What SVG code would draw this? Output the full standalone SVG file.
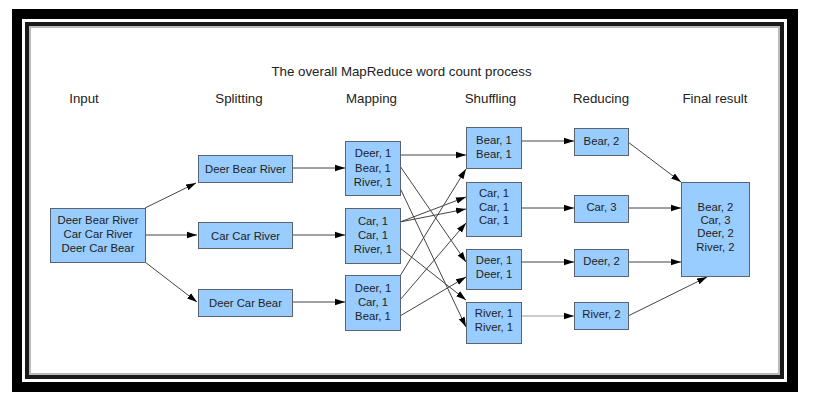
<svg xmlns="http://www.w3.org/2000/svg" width="813" height="404" viewBox="0 0 813 404">
<defs>
<style>
.box{fill:#99ccff;stroke:#5a6470;stroke-width:1}
.t{font-family:"Liberation Sans",Arial,sans-serif;font-size:11.3px;fill:#222;text-anchor:middle}
.h{font-family:"Liberation Sans",Arial,sans-serif;font-size:13.3px;fill:#222;text-anchor:middle}
.c line{stroke:#444;stroke-width:1;marker-end:url(#ah)}
</style>
<marker id="ah" markerUnits="userSpaceOnUse" markerWidth="11" markerHeight="8" refX="10" refY="4" orient="auto">
<path d="M0,0.8 L10,4 L0,7.2 Z" fill="#000"/>
</marker>
</defs>
<rect width="813" height="404" fill="#fff"/>
<g id="frame">
<rect x="12" y="9" width="786" height="383" fill="#000"/>
<rect x="22" y="19" width="765" height="363" fill="#fff"/>
<rect x="25" y="22" width="759" height="357" fill="#1a1a1a"/>
<rect x="29" y="26" width="751" height="349" fill="#fff"/>
<rect x="30" y="27" width="749" height="347" fill="none" stroke="#bbb" stroke-width="2"/>
</g>
<g id="titles">
<text class="h" x="401.5" y="76">The overall MapReduce word count process</text>
<text class="h" x="84" y="103">Input</text>
<text class="h" x="239" y="103">Splitting</text>
<text class="h" x="371.5" y="103">Mapping</text>
<text class="h" x="490.5" y="103">Shuffling</text>
<text class="h" x="601" y="103">Reducing</text>
<text class="h" x="715" y="103">Final result</text>
</g>
<g class="c" id="connectors">
<line x1="145" y1="208" x2="196" y2="183"/>
<line x1="145" y1="235" x2="197" y2="235"/>
<line x1="145" y1="262" x2="197" y2="302"/>
<line x1="292" y1="168" x2="345" y2="168"/>
<line x1="292" y1="235" x2="345" y2="235"/>
<line x1="292" y1="302" x2="345" y2="302"/>
<line x1="400" y1="155" x2="466" y2="155"/>
<line x1="400" y1="166" x2="466" y2="262"/>
<line x1="400" y1="188" x2="466" y2="327"/>
<line x1="400" y1="222" x2="466" y2="197"/>
<line x1="400" y1="222" x2="466" y2="209"/>
<line x1="400" y1="248" x2="466" y2="300"/>
<line x1="400" y1="276" x2="466" y2="169"/>
<line x1="400" y1="300" x2="466" y2="223"/>
<line x1="400" y1="316" x2="466" y2="277"/>
<line x1="521" y1="141" x2="574" y2="141"/>
<line x1="521" y1="208" x2="574" y2="208"/>
<line x1="521" y1="262" x2="574" y2="262"/>
<line x1="521" y1="316" x2="574" y2="316" style="stroke:#999"/>
<line x1="628" y1="142" x2="681" y2="182"/>
<line x1="628" y1="208" x2="681" y2="208"/>
<line x1="628" y1="262" x2="681" y2="262"/>
<line x1="628" y1="316" x2="707" y2="277"/>
</g>
<g id="input">
<rect class="box" x="50.5" y="208.5" width="95" height="54"/>
<text class="t" x="98" y="224">Deer Bear River</text>
<text class="t" x="98" y="238">Car Car River</text>
<text class="t" x="98" y="252">Deer Car Bear</text>
</g>
<g id="split1">
<rect class="box" x="198.5" y="155.5" width="94" height="27"/>
<text class="t" x="245.5" y="172.5">Deer Bear River</text>
</g>
<g id="split2">
<rect class="box" x="198.5" y="222.5" width="94" height="26"/>
<text class="t" x="245.5" y="239.5">Car Car River</text>
</g>
<g id="split3">
<rect class="box" x="198.5" y="289.5" width="94" height="27"/>
<text class="t" x="245.5" y="306.5">Deer Car Bear</text>
</g>
<g id="map1">
<rect class="box" x="345.5" y="141.5" width="55" height="54"/>
<text class="t" x="373" y="157.3">Deer, 1</text>
<text class="t" x="373" y="171.5">Bear, 1</text>
<text class="t" x="373" y="185.7">River, 1</text>
</g>
<g id="map2">
<rect class="box" x="345.5" y="208.5" width="55" height="55"/>
<text class="t" x="373" y="225">Car, 1</text>
<text class="t" x="373" y="239">Car, 1</text>
<text class="t" x="373" y="253">River, 1</text>
</g>
<g id="map3">
<rect class="box" x="345.5" y="275.5" width="55" height="55"/>
<text class="t" x="373" y="292">Deer, 1</text>
<text class="t" x="373" y="306">Car, 1</text>
<text class="t" x="373" y="320">Bear, 1</text>
</g>
<g id="shuf-bear">
<rect class="box" x="466.5" y="127.5" width="55" height="41"/>
<text class="t" x="494" y="144">Bear, 1</text>
<text class="t" x="494" y="157.5">Bear, 1</text>
</g>
<g id="shuf-car">
<rect class="box" x="466.5" y="182.5" width="55" height="54"/>
<text class="t" x="494" y="197">Car, 1</text>
<text class="t" x="494" y="210.7">Car, 1</text>
<text class="t" x="494" y="224.3">Car, 1</text>
</g>
<g id="shuf-deer">
<rect class="box" x="466.5" y="249.5" width="55" height="40"/>
<text class="t" x="494" y="264">Deer, 1</text>
<text class="t" x="494" y="277.5">Deer, 1</text>
</g>
<g id="shuf-river">
<rect class="box" x="466.5" y="302.5" width="55" height="41"/>
<text class="t" x="494" y="317.3">River, 1</text>
<text class="t" x="494" y="330.7">River, 1</text>
</g>
<g id="red-bear">
<rect class="box" x="574.5" y="128.5" width="54" height="27"/>
<text class="t" x="601.5" y="144.5">Bear, 2</text>
</g>
<g id="red-car">
<rect class="box" x="574.5" y="195.5" width="54" height="27"/>
<text class="t" x="601.5" y="211">Car, 3</text>
</g>
<g id="red-deer">
<rect class="box" x="574.5" y="249.5" width="54" height="27"/>
<text class="t" x="601.5" y="264.5">Deer, 2</text>
</g>
<g id="red-river">
<rect class="box" x="574.5" y="302.5" width="54" height="27"/>
<text class="t" x="601.5" y="317.5">River, 2</text>
</g>
<g id="final">
<rect class="box" x="681.5" y="182.5" width="68" height="94"/>
<text class="t" x="715.5" y="210.7">Bear, 2</text>
<text class="t" x="715.5" y="224">Car, 3</text>
<text class="t" x="715.5" y="237.3">Deer, 2</text>
<text class="t" x="715.5" y="250.7">River, 2</text>
</g>
</svg>
